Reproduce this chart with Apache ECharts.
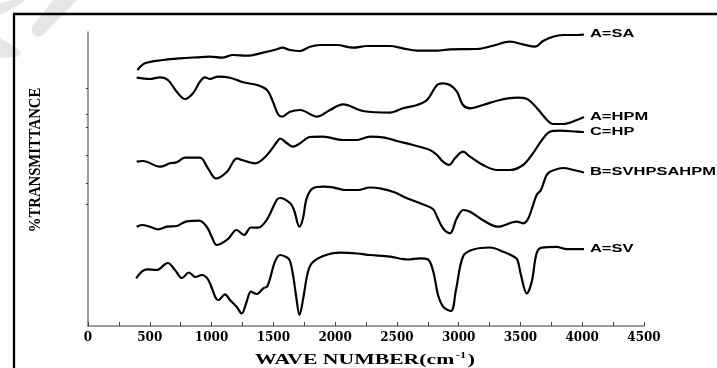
<!DOCTYPE html>
<html>
<head>
<meta charset="utf-8">
<script src="https://cdn.jsdelivr.net/npm/echarts@6/dist/echarts.min.js"></script>
<style>
  html, body { margin: 0; padding: 0; background: #fff; }
  #chart { width: 717px; height: 368px; }
</style>
</head>
<body>
<div id="chart"></div>
<script>
// FTIR spectra, stacked with vertical offsets: [wave number (cm-1), transmittance (offset units)]
const seriesNames = ['A=SA', 'A=HPM', 'C=HP', 'B=SVHPSAHPM', 'A=SV'];

const specSA = [
  [400,256],[461,262.7],[607,266],[745,267.7],[882,268.7],[987,269.3],[1084,268.3],[1174,271],
  [1287,270.3],[1416,273.3],[1529,276.7],[1570,278.3],[1635,276],[1716,275],[1797,279.3],[1878,281],
  [2015,281],[2145,278.3],[2258,280],[2444,280],[2549,277.7],[2663,275.3],[2825,275.3],[2930,276.7],
  [3148,277],[3278,280.3],[3415,284.3],[3521,281.7],[3618,279.3],[3683,285],[3763,289.3],[3844,291],
  [3966,291],[4014,291.5]
];

const specHPM = [
  [394,248.3],[502,247],[583,248.7],[647,246],[718,234.3],[785,227],[850,232.7],[906,244.3],
  [947,248.7],[987,247],[1052,249.3],[1149,248.3],[1254,243.7],[1368,241],[1449,236],[1497,224.3],
  [1538,211.7],[1570,209.3],[1635,214.3],[1716,216],[1853,209.3],[1959,216],[2064,221.7],[2226,215],
  [2444,213.3],[2549,217.7],[2663,221],[2744,226],[2825,241],[2873,242.7],[2930,241],[2986,234.3],
  [3035,221],[3092,217.7],[3197,221],[3334,226],[3472,228.3],[3553,227],[3634,217.7],[3715,206],
  [3763,202],[3844,202],[3958,206],[4014,209]
];

const specHP = [
  [394,164.3],[445,165],[583,159.3],[664,162.7],[718,163.7],[785,168.3],[906,168.3],[971,157.7],
  [1036,147.5],[1125,154.3],[1206,167.7],[1246,166],[1352,162.7],[1449,171],[1530,184.3],[1554,187.5],
  [1611,182.7],[1659,179.3],[1716,182.7],[1797,189],[1902,189.3],[2064,186],[2177,186],[2282,189.3],
  [2387,188.7],[2501,185],[2630,181],[2768,176],[2825,171],[2873,164.3],[2922,161],[2970,167.7],
  [3035,174.3],[3092,169.3],[3197,161],[3310,156],[3415,156],[3521,161],[3601,172.7],[3674,186],
  [3739,194.3],[3820,195.3],[3958,194.3],[4014,194]
];

const specMix = [
  [394,99.3],[435,101],[502,99.3],[567,96.7],[637,99.3],[718,100],[799,104.7],[898,105.3],
  [961,99.3],[1001,89.3],[1042,81],[1082,82.7],[1133,87],[1203,96],[1263,91],[1319,98.5],
  [1376,98.3],[1446,106],[1527,126],[1554,128],[1635,123],[1667,116],[1712,99.3],[1740,107.7],
  [1770,127.7],[1821,137.7],[1902,139.3],[1983,138.7],[2080,136],[2185,136],[2282,138.5],[2363,137.7],
  [2485,133.5],[2582,127.7],[2703,122],[2792,117],[2825,109.3],[2873,97.7],[2930,92.7],[2984,107.5],
  [3039,116],[3092,114.3],[3201,105.5],[3318,99.3],[3470,104.3],[3523,102.7],[3564,107.7],[3631,131],
  [3666,136],[3708,150],[3739,154.3],[3848,158],[3931,156],[4014,153.5]
];

const specSV = [
  [390,47.7],[435,54.3],[475,56.7],[556,56],[623,61.7],[647,63],[704,56],[761,48],
  [817,53.5],[870,49],[920,51],[974,46],[1032,28.5],[1055,26],[1109,31.7],[1149,26],
  [1203,19.3],[1244,12.5],[1284,24.3],[1319,34.3],[1365,32],[1419,37.7],[1453,40],[1513,64.3],
  [1554,71],[1611,68.5],[1635,65],[1662,49],[1683,31],[1712,11],[1742,27.7],[1780,54],
  [1817,63.5],[1904,70],[2039,73.3],[2177,72.5],[2282,71],[2444,69.3],[2590,66.5],[2687,67.7],
  [2752,66.5],[2795,54.3],[2833,31],[2875,19.3],[2938,15],[2978,36],[3037,70],[3118,76.5],
  [3253,78.5],[3367,74],[3445,69.5],[3476,66],[3504,51],[3551,32.5],[3591,44],[3631,72.7],
  [3672,78.3],[3793,79.2],[3874,76.8],[4014,76.8]
];

const spectra = [specSA, specHPM, specHP, specMix, specSV];

// axis settings
const waveMin = 0, waveMax = 4500, waveStep = 500;
const transMin = 0, transMax = 294;
const transTickValues = [238, 212, 199, 171, 143, 122];

const xTitle = '{a|WAVE NUMBER(cm}{s|-1}{a|)}';
const yTitle = '%TRANSMITTANCE';

const chart = echarts.init(document.getElementById('chart'), null, { renderer: 'canvas' });

// faint diagonal marks in the top-left corner, frame and axis titles
const staticGraphics = [
  { id: 'wm1', type: 'polygon', z: 0, shape: { points: [[14,0],[26,0],[6,12],[0,15],[0,3]] }, style: { fill: '#e6e6e6' } },
  { id: 'wm2', type: 'polygon', z: 0, shape: { points: [[53,0],[77,0],[43,35],[37,37],[32,33],[32,27]] }, style: { fill: '#e6e6e6' } },
  { id: 'wm3', type: 'polygon', z: 0, shape: { points: [[0,38],[17,48],[21,53],[17,57],[0,58]] }, style: { fill: '#e6e6e6' } },
  { id: 'frame', type: 'rect', z: 5, shape: { x: 14, y: 14, width: 720, height: 370 },
    style: { fill: 'none', stroke: '#000', lineWidth: 2.3 } },
  { id: 'ytitle', type: 'text', z: 5, x: 36, y: 160, rotation: Math.PI / 2, scaleX: 0.92,
    style: { text: yTitle, fill: '#000', font: 'bold 16px "Liberation Serif"', align: 'center', verticalAlign: 'middle' } },
  { id: 'xtitle', type: 'text', z: 5, x: 365, y: 360, scaleX: 1.55,
    style: {
      text: xTitle, fill: '#000', align: 'center', verticalAlign: 'middle',
      rich: {
        a: { fontFamily: 'Liberation Serif', fontWeight: 'bold', fontSize: 14, fill: '#000' },
        s: { fontFamily: 'Liberation Serif', fontWeight: 'bold', fontSize: 8, fill: '#000', padding: [0, 1, 9, 1] }
      }
    } }
];

const option = {
  animation: false,
  backgroundColor: '#fff',
  grid: { left: 88, right: 73, top: 32, bottom: 42, containLabel: false, outerBoundsMode: 'none' },
  xAxis: {
    type: 'value', min: waveMin, max: waveMax, interval: waveStep,
    axisLine: { show: true, lineStyle: { color: '#7a7a7a', width: 1.5 } },
    axisTick: { show: true, inside: true, length: 4, lineStyle: { color: '#444', width: 1 } },
    minorTick: { show: true, splitNumber: 2, length: 4, lineStyle: { color: '#444', width: 1 } },
    axisLabel: {
      color: '#000', fontFamily: 'DejaVu Serif', fontWeight: 'bold', fontSize: 12, margin: 6,
      formatter: v => String(v)
    },
    splitLine: { show: false }
  },
  yAxis: {
    type: 'value', min: transMin, max: transMax,
    axisLine: { show: true, lineStyle: { color: '#7a7a7a', width: 1.5 } },
    axisTick: { show: true, length: 2, customValues: transTickValues, lineStyle: { color: '#444', width: 1 } },
    axisLabel: { show: false },
    splitLine: { show: false }
  },
  series: spectra.map((data, i) => ({
    name: seriesNames[i],
    type: 'line',
    data: data,
    smooth: 0.35,
    showSymbol: false,
    lineStyle: { color: '#000', width: 2.2 },
    z: 3
  })),
  graphic: staticGraphics
};

chart.setOption(option);

// curve names placed just after each spectrum's last point
const labelGraphics = spectra.map((data, i) => {
  const p = chart.convertToPixel({ gridIndex: 0 }, data[data.length - 1]);
  return {
    id: 'lbl' + i, type: 'text', z: 5, x: p[0] + 6, y: p[1], scaleX: 1.65,
    style: { text: seriesNames[i], fill: '#000', font: 'bold 10px "Liberation Sans"', align: 'left', verticalAlign: 'middle' }
  };
});
chart.setOption({ graphic: staticGraphics.concat(labelGraphics) });
</script>
</body>
</html>
